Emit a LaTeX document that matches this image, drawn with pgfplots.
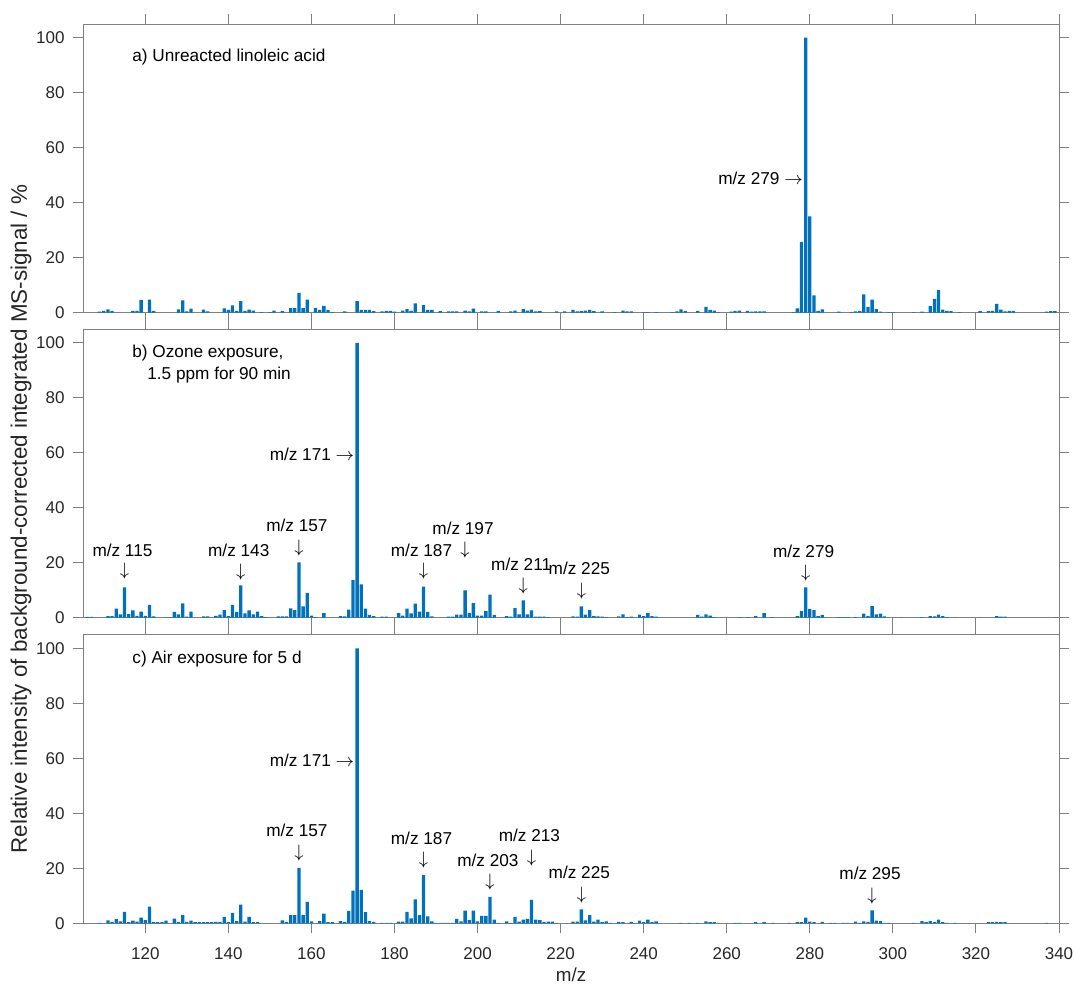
\documentclass[border=0pt]{standalone}
\usepackage{fontspec}
\setmainfont{Liberation Sans}
\usepackage{pgfplots}
\pgfplotsset{compat=1.18}
\usepackage{pgfplotstable}
\definecolor{msblue}{RGB}{0,114,189}
\definecolor{axgray}{RGB}{128,128,128}
\definecolor{txtgray}{RGB}{38,38,38}

\pgfplotstableread{
mz val
109 0.4
110 0.7
111 1.2
112 0.7
117 0.7
118 0.7
119 4.7
121 4.8
122 0.7
128 1.2
129 4.5
130 0.5
131 1.5
134 1.1
135 0.5
139 1.6
140 1.0
141 2.7
142 0.7
143 4.2
144 0.7
145 1.1
146 0.8
148 0.2
150 0.2
151 0.8
153 0.6
155 1.7
156 1.7
157 7.2
158 1.7
159 4.8
161 1.8
162 1.0
163 2.5
164 1.0
165 0.2
168 0.5
171 4.2
172 1.0
173 1.0
174 1.0
175 0.6
177 0.5
178 0.7
179 0.7
180 0.4
182 0.8
183 1.3
184 0.7
185 3.4
187 2.8
188 1.0
189 1.0
191 0.6
193 0.5
194 0.5
195 0.5
197 0.8
198 0.5
199 1.5
201 0.5
202 0.5
205 0.7
208 0.5
209 0.8
211 1.3
212 0.8
213 1.1
214 0.5
215 0.6
219 0.5
221 0.5
223 1.0
224 0.5
225 0.6
226 0.8
227 1.0
228 0.6
230 0.5
233 0.2
235 0.8
236 0.5
237 0.5
240 0.2
241 0.2
243 0.2
247 0.2
248 0.5
249 1.2
250 0.6
253 0.7
255 2.1
256 1.0
257 0.8
258 0.2
261 0.4
262 0.7
263 0.8
265 0.7
266 0.4
267 0.5
268 0.5
269 0.5
276 0.2
277 1.6
278 25.8
279 100
280 35
281 6.3
282 0.7
283 1.2
287 0.4
290 0.2
291 0.5
292 0.7
293 6.7
294 2.1
295 4.8
296 1.3
297 0.4
299 0.2
300 0.2
305 0.2
307 0.4
309 2.4
310 5.0
311 8.2
312 1.1
313 0.7
314 0.6
316 0.2
321 0.6
323 0.6
324 0.7
325 3.2
326 1.1
327 0.5
328 0.7
329 0.7
337 0.4
338 0.6
339 0.6
}\dataA

\pgfplotstableread{
mz val
106 0.3
107 0.3
111 0.6
112 0.6
113 3.3
114 1.2
115 11.0
116 1.3
117 2.7
118 0.7
119 2.2
120 0.7
121 4.7
122 0.5
125 0.1
126 0.2
127 2.1
128 1.2
129 5.2
130 0.4
131 2.2
134 0.5
135 0.5
137 0.7
138 1.1
139 2.8
140 0.6
141 4.7
142 2.1
143 11.8
144 1.6
145 2.7
146 1.2
147 2.2
148 0.6
149 0.2
152 0.5
153 0.5
154 0.5
155 3.4
156 2.8
157 20.1
158 4.1
159 9.0
160 0.8
161 0.2
163 1.7
167 0.6
168 0.5
169 2.9
170 13.7
171 100
172 12.1
173 3.3
174 1.0
175 0.6
177 0.4
178 0.4
181 1.7
182 0.8
183 3.3
184 1.6
185 5.1
186 2.2
187 11.3
188 2.1
189 0.5
193 0.4
194 0.4
195 1.1
196 1.1
197 9.9
198 1.8
199 5.3
200 0.8
201 0.8
202 2.4
203 8.4
204 1.0
207 0.6
208 0.4
209 3.5
210 1.2
211 6.3
212 1.2
213 2.7
214 0.4
215 0.4
216 0.4
217 0.2
223 0.5
224 0.4
225 4.1
226 1.1
227 2.8
228 0.6
229 0.5
230 0.4
231 0.2
234 0.5
235 1.2
236 0.2
237 0.4
239 1.1
240 0.6
241 1.7
242 0.6
243 0.4
253 1.0
254 0.4
255 1.2
256 0.8
257 0.2
263 0.2
265 0.2
267 0.6
269 1.7
271 0.2
277 0.6
278 2.4
279 11.0
280 3.2
281 2.8
282 0.6
283 1.0
287 0.2
288 0.2
289 0.2
291 0.2
293 1.5
294 0.6
295 4.2
296 1.2
297 1.5
298 0.5
302 0.1
307 0.2
309 0.6
310 0.5
311 1.1
312 0.6
313 0.2
315 0.1
321 0.1
325 0.6
326 0.4
327 0.4
339 0.1
}\dataB

\pgfplotstableread{
mz val
109 0.2
111 1.1
112 0.5
113 1.5
114 0.7
115 4.2
116 0.4
117 1.0
118 0.6
119 2.1
120 1.2
121 6.1
122 0.4
123 0.4
124 0.4
125 1.0
127 1.7
128 0.5
129 3.0
130 0.5
131 1.0
132 0.4
133 0.4
134 0.4
135 0.4
136 0.4
137 0.5
138 0.5
139 2.3
140 0.4
141 3.8
142 0.8
143 6.8
144 0.6
145 2.3
146 0.4
147 0.4
153 1.1
154 0.5
155 3.0
156 3.0
157 20.2
158 3.0
159 7.8
160 0.7
162 0.8
163 3.5
164 0.4
165 0.4
167 0.8
168 0.5
169 4.5
170 11.9
171 100
172 12.2
173 4.1
174 0.8
175 0.5
177 0.2
178 0.2
179 0.2
181 0.6
182 0.6
183 4.2
184 1.8
185 8.7
186 3.0
187 17.5
188 2.5
189 0.7
190 0.2
191 0.2
192 0.2
193 0.2
194 0.2
195 1.6
196 0.7
197 4.6
198 1.2
199 4.6
200 0.7
201 2.7
202 2.7
203 9.6
204 1.3
205 0.2
207 0.7
208 0.2
209 2.3
210 0.6
211 1.3
212 1.6
213 8.5
214 1.3
215 1.2
216 0.5
217 0.6
218 0.6
219 0.2
223 0.6
224 0.6
225 5.1
226 1.1
227 3.0
228 0.6
229 1.3
230 0.4
231 0.7
232 0.2
234 0.5
235 0.4
237 0.5
239 1.0
240 0.4
241 1.3
242 0.4
243 0.7
249 0.2
251 0.2
253 0.2
255 0.7
256 0.4
257 0.4
262 0.2
263 0.2
267 0.4
269 0.4
271 0.2
275 0.2
277 0.4
278 0.4
279 2.1
280 0.6
281 0.4
283 0.5
285 0.2
286 0.2
288 0.2
289 0.2
291 0.6
292 0.2
293 0.7
294 0.5
295 4.7
296 1.0
297 0.8
298 0.2
299 0.2
305 0.2
307 0.8
308 0.4
309 0.8
310 0.4
311 1.3
312 0.4
313 0.2
315 0.2
323 0.4
324 0.4
325 0.5
326 0.4
327 0.4
337 0.2
}\dataC

\pgfplotsset{
  msaxis/.style={
    scale only axis, width=488pt, height=144.35pt,
    xmin=105, xmax=340, ymin=0, ymax=105,
    xtick={120,140,...,340}, ytick={0,20,...,100},
    minor tick num=0,
    tick align=outside, major tick length=5pt,
    tick pos=both,
    axis line style={draw=axgray, line width=0.5pt},
    every tick/.style={draw=axgray, line width=0.5pt},
    tick label style={font=\fontsize{8.5}{10.2}\selectfont, text=txtgray},
    yticklabel style={anchor=east, inner sep=0pt, xshift=-4pt},
    xticklabel style={anchor=north, inner sep=0pt, yshift=-7pt},
    /pgf/number format/assume math mode=true,
    clip=false,
    anchor=south west,
  },
  msbar/.style={ybar, bar width=0.8, fill=msblue, draw=none},
}
\tikzset{lab/.style={font=\fontsize{8.6}{10.3}\selectfont, text=black, inner sep=0pt}}

\begin{document}
\begin{tikzpicture}[font=\fontsize{8.6}{10.3}\selectfont]
\useasboundingbox (0,0) rectangle (537pt,-492.5pt);
% panel a
\begin{axis}[msaxis, at={(41.5pt,-156.35pt)}, xticklabels={}]
\addplot[msbar] table[x=mz,y=val]{\dataA};
\node[lab, anchor=base west] at (axis cs:116.8,91.5) {a) Unreacted linoleic acid};
\node[lab, anchor=base east] at (axis cs:278.4,46.8) {m/z 279 $\rightarrow$};
\end{axis}
% panel b
\begin{axis}[msaxis, at={(41.5pt,-308.85pt)}, xticklabels={}]
\addplot[msbar] table[x=mz,y=val]{\dataB};
\node[lab, anchor=base west] at (axis cs:116.8,94.7) {b) Ozone exposure,};
\node[lab, anchor=base west] at (axis cs:120.4,86.7) {1.5 ppm for 90 min};
\node[lab, anchor=base east] at (axis cs:170.4,57.0) {m/z 171 $\rightarrow$};
\node[lab, anchor=base] at (axis cs:114.5,22.4) {m/z 115};
\node[lab] at (axis cs:115,17.0) {$\downarrow$};
\node[lab, anchor=base] at (axis cs:142.5,22.4) {m/z 143};
\node[lab] at (axis cs:143,16.8) {$\downarrow$};
\node[lab, anchor=base] at (axis cs:156.5,31.5) {m/z 157};
\node[lab] at (axis cs:157,25.3) {$\downarrow$};
\node[lab, anchor=base] at (axis cs:186.5,22.1) {m/z 187};
\node[lab] at (axis cs:187,17.0) {$\downarrow$};
\node[lab, anchor=base] at (axis cs:196.5,30.3) {m/z 197};
\node[lab] at (axis cs:197,24.6) {$\downarrow$};
\node[lab, anchor=base] at (axis cs:210.5,17.3) {m/z 211};
\node[lab] at (axis cs:211,11.5) {$\downarrow$};
\node[lab, anchor=base] at (axis cs:224.5,15.8) {m/z 225};
\node[lab] at (axis cs:225,9.7) {$\downarrow$};
\node[lab, anchor=base] at (axis cs:278.5,22.0) {m/z 279};
\node[lab] at (axis cs:279,16.2) {$\downarrow$};
\end{axis}
% panel c
\begin{axis}[msaxis, at={(41.5pt,-461.65pt)}]
\addplot[msbar] table[x=mz,y=val]{\dataC};
\node[lab, anchor=base west] at (axis cs:116.8,94.6) {c) Air exposure for 5 d};
\node[lab, anchor=base east] at (axis cs:170.4,57.2) {m/z 171 $\rightarrow$};
\node[lab, anchor=base] at (axis cs:156.5,31.4) {m/z 157};
\node[lab] at (axis cs:157,25.6) {$\downarrow$};
\node[lab, anchor=base] at (axis cs:186.5,28.8) {m/z 187};
\node[lab] at (axis cs:187,23.0) {$\downarrow$};
\node[lab, anchor=base] at (axis cs:202.5,20.8) {m/z 203};
\node[lab] at (axis cs:203,15.0) {$\downarrow$};
\node[lab, anchor=base] at (axis cs:212.5,29.9) {m/z 213};
\node[lab] at (axis cs:213,23.6) {$\downarrow$};
\node[lab, anchor=base] at (axis cs:224.5,16.4) {m/z 225};
\node[lab] at (axis cs:225,10.3) {$\downarrow$};
\node[lab, anchor=base] at (axis cs:294.5,15.9) {m/z 295};
\node[lab] at (axis cs:295,10.1) {$\downarrow$};
\end{axis}
\node[lab, text=txtgray, font=\fontsize{9.4}{11}\selectfont, anchor=base] at (285.5pt,-490.5pt) {m/z};
\node[lab, text=txtgray, rotate=90, font=\fontsize{11.2}{13}\selectfont] at (10.5pt,-259.5pt) {Relative intensity of background-corrected integrated MS-signal / \%};
\end{tikzpicture}
\end{document}
